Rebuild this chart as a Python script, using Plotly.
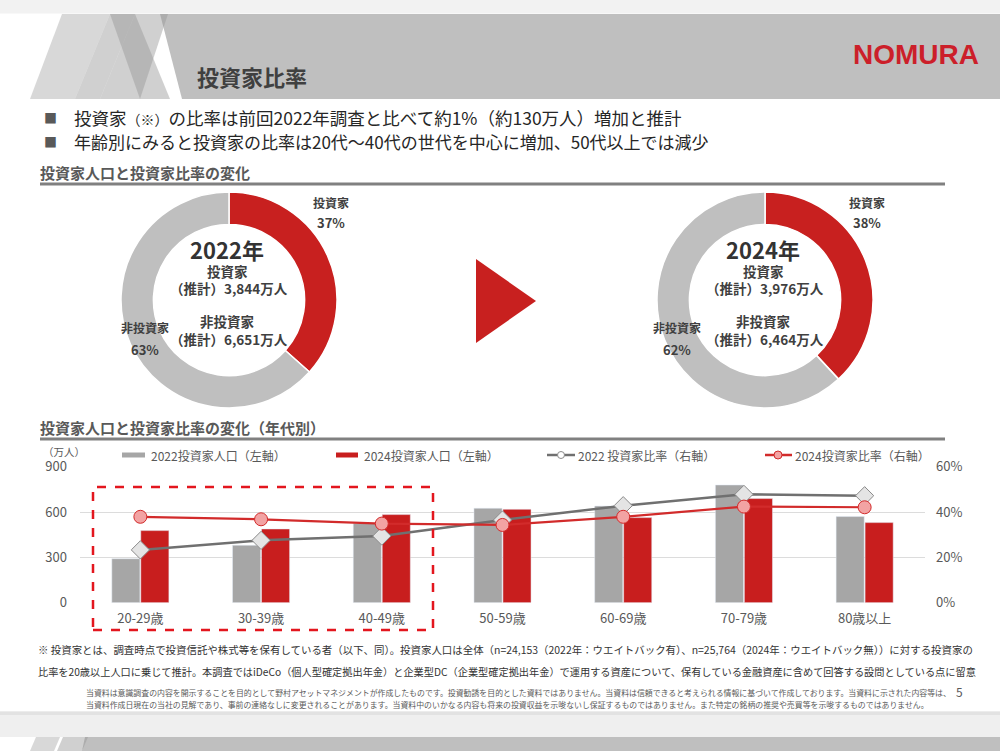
import plotly.graph_objects as go

W, H = 1000, 751
FONT = "Noto Sans CJK JP"
RED = "#c8201f"
GRAY_DONUT = "#bfbfbf"
TXT = "#404040"

# donut data (万人)
donut_years = ["2022年", "2024年"]
investors = [3844, 3976]
non_investors = [6651, 6464]

# by age data
ages = ["20-29歳", "30-39歳", "40-49歳", "50-59歳", "60-69歳", "70-79歳", "80歳以上"]
pop_2022 = [291, 380, 526, 625, 640, 779, 570]
pop_2024 = [477, 488, 583, 618, 563, 689, 530]
ratio_2022 = [0.233, 0.275, 0.294, 0.365, 0.428, 0.478, 0.472]
ratio_2024 = [0.379, 0.368, 0.349, 0.343, 0.379, 0.424, 0.421]
left_ticks = [0, 300, 600, 900]
right_ticks = [0, 0.2, 0.4, 0.6]


def fx(x):
    return x / W


def fy(y):
    return 1 - y / H


def rect(x0, y0, x1, y1, color, layer="below"):
    return dict(type="rect", xref="paper", yref="paper", x0=fx(x0), x1=fx(x1),
                y0=fy(y1), y1=fy(y0), fillcolor=color, line_width=0, layer=layer)


def poly(pts, color, layer="below"):
    path = "M " + " L ".join(f"{fx(x)},{fy(y)}" for x, y in pts) + " Z"
    return dict(type="path", xref="paper", yref="paper", path=path,
                fillcolor=color, line_width=0, layer=layer)


def line(x0, y0, x1, y1, color, width=1, dash="solid", layer="above"):
    return dict(type="line", xref="paper", yref="paper", x0=fx(x0), x1=fx(x1),
                y0=fy(y0), y1=fy(y1), line=dict(color=color, width=width, dash=dash),
                layer=layer)


def text(x, y, s, size=12, color=TXT, bold=False, xanchor="center", family=FONT):
    if bold:
        s = f"<b>{s}</b>"
    return dict(x=fx(x), y=fy(y), xref="paper", yref="paper", text=s, showarrow=False,
                xanchor=xanchor, yanchor="middle", font=dict(family=family, size=size, color=color))


fig = go.Figure()

# donuts
centers = [229, 765]
for i, cx in enumerate(centers):
    r = 108
    fig.add_trace(go.Pie(
        labels=["投資家", "非投資家"], values=[investors[i], non_investors[i]],
        hole=0.70, sort=False, direction="clockwise", rotation=0,
        marker=dict(colors=[RED, GRAY_DONUT], line=dict(color="white", width=1.5)),
        textinfo="none", hoverinfo="label+value+percent",
        domain=dict(x=[fx(cx - r), fx(cx + r)], y=[fy(300 + r), fy(300 - r)]),
        showlegend=False,
    ))

# bars and lines by age
fig.add_trace(go.Bar(x=ages, y=pop_2022, name="2022投資家人口（左軸）",
                     marker_color="#a6a6a6", showlegend=False))
fig.add_trace(go.Bar(x=ages, y=pop_2024, name="2024投資家人口（左軸）",
                     marker_color="#c81e1e", showlegend=False))
fig.add_trace(go.Scatter(x=ages, y=ratio_2022, yaxis="y2", mode="lines+markers",
                         name="2022 投資家比率（右軸）",
                         line=dict(color="#707070", width=2.5),
                         marker=dict(symbol="diamond", size=14, color="#e4e4e4",
                                     line=dict(color="#8a8a8a", width=1)),
                         showlegend=False))
fig.add_trace(go.Scatter(x=ages, y=ratio_2024, yaxis="y2", mode="lines+markers",
                         name="2024投資家比率（右軸）",
                         line=dict(color="#d22b2b", width=2.2),
                         marker=dict(symbol="circle", size=13, color="#f2a3a3",
                                     line=dict(color="#d22b2b", width=1)),
                         showlegend=False))

shapes = []
# page background strips
shapes.append(rect(0, 0, 1000, 13.5, "#f2f2f2"))
shapes.append(rect(0, 711.5, 1000, 737, "#efefef"))
shapes.append(rect(0, 711.5, 1000, 715, "#e2e2e2"))
# header band
shapes.append(poly([(160, 14), (1000, 14), (1000, 99), (182, 99)], "#bfbfbf"))
stripe = "rgba(150,150,150,0.45)"
shapes.append(poly([(30, 99), (62, 14), (110, 14), (75, 99)], "rgba(190,190,190,0.6)"))
shapes.append(poly([(75, 99), (110, 14), (135, 14), (100, 99)], stripe))
shapes.append(poly([(110, 14), (135, 14), (170, 99), (140, 99)], stripe))
shapes.append(poly([(135, 14), (168, 14), (140, 99), (100, 99)], stripe))
# next slide header peek
shapes.append(poly([(85, 737), (1000, 737), (1000, 751), (82, 751)], "#bfbfbf"))
shapes.append(poly([(30, 751), (36, 737), (60, 737), (54, 751)], "rgba(190,190,190,0.6)"))
shapes.append(poly([(57, 751), (63, 737), (88, 737), (82, 751)], stripe))

# section underlines
shapes.append(line(40, 184, 945, 184, "#808080", 3))
shapes.append(line(40, 439, 945, 439, "#808080", 3))

# arrow
shapes.append(poly([(476, 259), (476, 343), (536, 301)], RED, layer="above"))

# dashed highlight box
shapes.append(dict(type="rect", xref="paper", yref="paper", x0=fx(93), x1=fx(433),
                   y0=fy(630), y1=fy(487), line=dict(color="#e3161e", width=2.5, dash="dash"),
                   fillcolor="rgba(0,0,0,0)", layer="above"))

# custom legend
shapes.append(rect(122, 452.5, 145, 457.5, "#a6a6a6", layer="above"))
shapes.append(rect(336, 452.5, 358, 457.5, "#c81e1e", layer="above"))
shapes.append(line(547, 455, 575, 455, "#707070", 2.5))
shapes.append(dict(type="circle", xref="paper", yref="paper", x0=fx(557.5), x1=fx(564.5),
                   y0=fy(458.5), y1=fy(451.5), fillcolor="#ffffff",
                   line=dict(color="#8a8a8a", width=1), layer="above"))
shapes.append(line(765, 455, 792, 455, "#d22b2b", 2.5))
shapes.append(dict(type="circle", xref="paper", yref="paper", x0=fx(774), x1=fx(782),
                   y0=fy(459), y1=fy(451), fillcolor="#f2a3a3",
                   line=dict(color="#d22b2b", width=1), layer="above"))

ann = []
ann.append(text(195, 76, "投資家比率", 22, "#404040", True, "left"))
ann.append(text(851, 55, "NOMURA", 28, "#cc1f2a", True, "left", "Liberation Sans"))
ann.append(text(42, 117, "■", 13, "#595959", False, "left"))
ann.append(text(72, 117, "投資家<span style='font-size:14px'>（※）</span>の比率は前回2022年調査と比べて約1%（約130万人）増加と推計",
                17.5, "#262626", False, "left"))
ann.append(text(42, 141, "■", 13, "#595959", False, "left"))
ann.append(text(72, 141, "年齢別にみると投資家の比率は20代～40代の世代を中心に増加、50代以上では減少",
                17, "#262626", False, "left"))
ann.append(text(38, 172, "投資家人口と投資家比率の変化", 15, "#595959", True, "left"))
ann.append(text(38, 427, "投資家人口と投資家比率の変化（年代別）", 15, "#595959", True, "left"))

# donut labels
out_inv = [(331, 867), (202, 223)]
out_non = [(145, 677), (327, 349)]
for i, cx in enumerate(centers):
    total = investors[i] + non_investors[i]
    p_inv = round(investors[i] / total * 100)
    p_non = round(non_investors[i] / total * 100)
    ann.append(text(out_inv[0][i], out_inv[1][0], "投資家", 12, TXT, True))
    ann.append(text(out_inv[0][i], out_inv[1][1], f"{p_inv}%", 13, TXT, True))
    ann.append(text(out_non[0][i], out_non[1][0], "非投資家", 12, TXT, True))
    ann.append(text(out_non[0][i], out_non[1][1], f"{p_non}%", 13, TXT, True))
    ann.append(text(cx - 2, 249, donut_years[i], 22, "#333333", True))
    ann.append(text(cx - 2, 271, "投資家", 13.5, TXT, True))
    ann.append(text(cx, 288, f"（推計）{investors[i]:,}万人", 13.5, TXT, True))
    ann.append(text(cx - 2, 321, "非投資家", 13.5, TXT, True))
    ann.append(text(cx, 339, f"（推計）{non_investors[i]:,}万人", 13.5, TXT, True))

# legend texts
ann.append(text(149, 455, "2022投資家人口（左軸）", 12, "#595959", False, "left"))
ann.append(text(362, 455, "2024投資家人口（左軸）", 12, "#595959", False, "left"))
ann.append(text(576, 455, "2022 投資家比率（右軸）", 12, "#595959", False, "left"))
ann.append(text(793, 455, "2024投資家比率（右軸）", 12, "#595959", False, "left"))
ann.append(text(41, 451, "（万人）", 10.5, "#595959", False, "left"))

# footnotes
ann.append(text(36, 649, "※ 投資家とは、調査時点で投資信託や株式等を保有している者（以下、同）。投資家人口は全体（n=24,153（2022年：ウエイトバック有）、n=25,764（2024年：ウエイトバック無））に対する投資家の",
                10.45, "#333333", False, "left"))
ann.append(text(36, 671, "比率を20歳以上人口に乗じて推計。本調査ではiDeCo（個人型確定拠出年金）と企業型DC（企業型確定拠出年金）で運用する資産について、保有している金融資産に含めて回答する設問としている点に留意",
                10.2, "#333333", False, "left"))
ann.append(text(84, 692, "当資料は意識調査の内容を開示することを目的として野村アセットマネジメントが作成したものです。投資勧誘を目的とした資料ではありません。当資料は信頼できると考えられる情報に基づいて作成しております。当資料に示された内容等は、",
                7.9, "#595959", False, "left"))
ann.append(text(84, 704, "当資料作成日現在の当社の見解であり、事前の連絡なしに変更されることがあります。当資料中のいかなる内容も将来の投資収益を示唆ないし保証するものではありません。また特定の銘柄の推奨や売買等を示唆するものではありません。",
                7.9, "#595959", False, "left"))
ann.append(text(954, 691, "5", 12, "#595959", False, "left"))

fig.update_layout(
    width=W, height=H, margin=dict(l=0, r=0, t=0, b=0, autoexpand=False),
    paper_bgcolor="white", plot_bgcolor="rgba(0,0,0,0)",
    font=dict(family=FONT, color="#595959"),
    showlegend=False, barmode="group", bargap=0.52, bargroupgap=0.03,
    xaxis=dict(domain=[fx(80), fx(925)], type="category", showline=False, ticks="",
               tickfont=dict(size=13, color="#595959"), ticklabelstandoff=6,
               automargin=False, fixedrange=True),
    yaxis=dict(domain=[fy(602.7), fy(466.7)], range=[0, 900], tickvals=left_ticks,
               showgrid=True, gridcolor="#dcdcdc", gridwidth=1, zeroline=False,
               automargin=False,
               tickfont=dict(size=13, color="#595959"), ticklabelstandoff=12),
    yaxis2=dict(overlaying="y", side="right", range=[0, 0.6], tickvals=right_ticks,
                tickformat=".0%", showgrid=False, zeroline=False, automargin=False,
                tickfont=dict(size=13, color="#595959"), ticklabelstandoff=10),
    shapes=shapes, annotations=ann,
)

fig.write_html("out.html", config={"displayModeBar": False},
               post_script="document.body.style.margin='0';")
